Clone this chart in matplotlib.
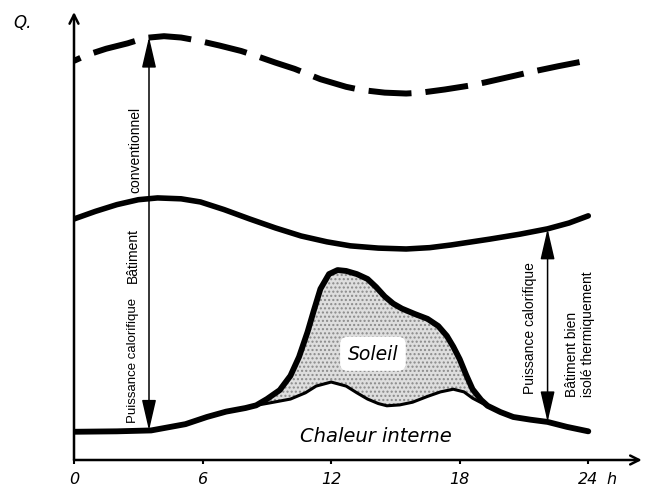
import matplotlib
matplotlib.use("Agg")
import matplotlib.pyplot as plt
import numpy as np

# heures / puissance (unites arbitraires, 0 = axe, 100 = haut de l'axe)
conv_h = [0, 0.6, 1.5, 2.5, 3.3, 4.2, 5.0, 5.8, 6.8, 7.8, 8.5, 9.4, 10.3, 11.5,
          12.7, 13.4, 14.5, 15.5, 16.2, 17.3, 18.5, 19.2, 20.4, 21.4, 22.6, 24]
conv_q = [89.1, 90.4, 91.8, 93.0, 94.2, 94.6, 94.3, 93.6, 92.5, 91.3, 90.2, 88.7,
          87.3, 85.0, 83.3, 82.6, 82.0, 81.8, 82.0, 82.7, 83.6, 84.3, 85.6, 86.7,
          87.9, 89.2]

iso_h = [0, 1, 2, 3, 3.9, 5, 5.9, 7, 8.2, 9.4, 10.6, 11.8, 12.9, 14.2, 15.5,
         16.6, 17.6, 19.4, 20.8, 22.1, 23.1, 24]
iso_q = [53.8, 55.5, 57.0, 58.1, 58.5, 58.3, 57.6, 55.9, 53.8, 51.8, 50.0, 48.7,
         47.8, 47.3, 47.1, 47.4, 48.0, 49.3, 50.4, 51.6, 52.9, 54.5]

# enveloppe des apports (chaleur interne + soleil)
env_h = [0, 2, 3.6, 5.2, 6.2, 7.1, 8.0, 8.5, 9.0, 9.6, 10.1, 10.5, 10.9, 11.2,
         11.5, 11.9, 12.3, 12.7, 13.2, 13.7, 14.1, 14.5, 14.9, 15.3, 15.9, 16.5,
         17.0, 17.4, 17.7, 18.0, 18.3, 18.6, 19.0, 19.3, 19.9, 20.5, 21.3, 22.1,
         23.0, 24.0]
env_q = [6.3, 6.4, 6.6, 8.0, 9.6, 10.8, 11.6, 12.2, 13.6, 15.6, 18.8, 23.0, 28.6,
         33.5, 38.2, 41.5, 42.4, 42.2, 41.5, 40.4, 38.6, 36.5, 34.9, 33.8, 32.6,
         31.5, 29.9, 27.7, 25.3, 22.5, 19.0, 15.8, 13.4, 12.1, 10.7, 9.6, 9.0, 8.5,
         7.4, 6.4]

# chaleur interne seule pendant la journee
int_h = [8.5, 9.2, 10.1, 10.8, 11.3, 12.0, 12.7, 13.2, 13.7, 14.2, 14.6, 15.2,
         15.8, 16.5, 17.1, 17.7, 18.2, 18.6, 19.0, 19.3]
int_q = [12.2, 12.8, 13.6, 15.0, 16.5, 17.4, 16.5, 15.0, 13.6, 12.6, 12.1, 12.3,
         12.9, 14.2, 15.2, 15.8, 15.2, 13.8, 12.8, 12.1]

ticks = [0, 6, 12, 18, 24]
tick_labels = ["0", "6", "12", "18", "24"]

arrow_conv = (3.5, 6.6, 94.4)
arrow_iso = (22.1, 8.5, 51.6)

narrow = "Liberation Sans"

fig = plt.figure(figsize=(6.47, 4.89), dpi=100)
ax = fig.add_axes([74 / 647, 28 / 489, 570 / 647, 448 / 489])
ax.set_xlim(0, 26.6)
ax.set_ylim(0, 100)
for s in ax.spines.values():
    s.set_visible(False)
ax.set_yticks([])
ax.set_xticks(ticks)
ax.set_xticklabels(tick_labels, fontsize=11.5, fontstyle="italic")
ax.tick_params(axis="x", direction="out", length=3, width=1.5, pad=5)
ax.annotate("h", xy=(25.1, 0), xytext=(0, -8), textcoords="offset points",
            ha="center", va="top", fontsize=11.5, fontstyle="italic")

# axes avec fleches
ax.annotate("", xy=(26.5, 0), xytext=(0, 0),
            arrowprops=dict(arrowstyle="->", lw=1.8, mutation_scale=16,
                            shrinkA=0, shrinkB=0))
ax.annotate("", xy=(0, 100), xytext=(0, 0),
            arrowprops=dict(arrowstyle="->", lw=1.8, mutation_scale=16,
                            shrinkA=0, shrinkB=0))
fig.text(22 / 647, 1 - 23 / 489, "Q.", ha="center", va="center",
         fontsize=12, fontstyle="italic")

# courbes
ax.plot(conv_h, conv_q, color="black", lw=4.3, linestyle=(6.0, (7.2, 2.35)),
        dash_capstyle="butt")
ax.plot(iso_h, iso_q, color="black", lw=4, solid_capstyle="round")

env_h_arr = np.array(env_h)
env_q_arr = np.array(env_q)
mask = (env_h_arr >= int_h[0]) & (env_h_arr <= int_h[-1])
poly_x = list(env_h_arr[mask]) + int_h[::-1]
poly_y = list(env_q_arr[mask]) + int_q[::-1]
ax.fill(poly_x, poly_y, facecolor="#dedede", edgecolor="#8a8a8a",
        hatch="....", lw=0)
ax.plot(int_h, int_q, color="black", lw=2.2, solid_capstyle="round")
ax.plot(env_h, env_q, color="black", lw=4.2, solid_capstyle="round",
        solid_joinstyle="round")

# fleches de puissance
for x, y0, y1 in (arrow_conv, arrow_iso):
    ax.annotate("", xy=(x, y1), xytext=(x, y0),
                arrowprops=dict(arrowstyle="<|-|>,head_length=0.95,head_width=0.22",
                                lw=1.1, color="black", mutation_scale=20,
                                shrinkA=0, shrinkB=0))

# textes
ax.text(13.95, 23.7, "Soleil", ha="center", va="center", fontsize=13.5,
        fontstyle="italic",
        bbox=dict(boxstyle="round,pad=0.4", fc="white", ec="none"))
ax.text(14.1, 5.4, "Chaleur interne", ha="center", va="center", fontsize=14,
        fontstyle="italic")

ax.text(2.75, 22.4, "Puissance calorifique", rotation=90, ha="center",
        va="center", fontsize=9.5, family=narrow)
ax.text(2.75, 45.8, "Bâtiment", rotation=90, ha="center", va="center",
        fontsize=10, family=narrow)
ax.text(2.85, 69.5, "conventionnel", rotation=90, ha="center", va="center",
        fontsize=10, family=narrow)

ax.text(21.3, 29.7, "Puissance calorifique", rotation=90, ha="center",
        va="center", fontsize=10, family=narrow)
ax.text(23.6, 14.3, "Bâtiment bien\nisolé thermiquement", rotation=90,
        ha="left", va="center", multialignment="left", fontsize=10,
        family=narrow, rotation_mode="anchor", linespacing=1.15)

fig.savefig("out.png", dpi=100)
